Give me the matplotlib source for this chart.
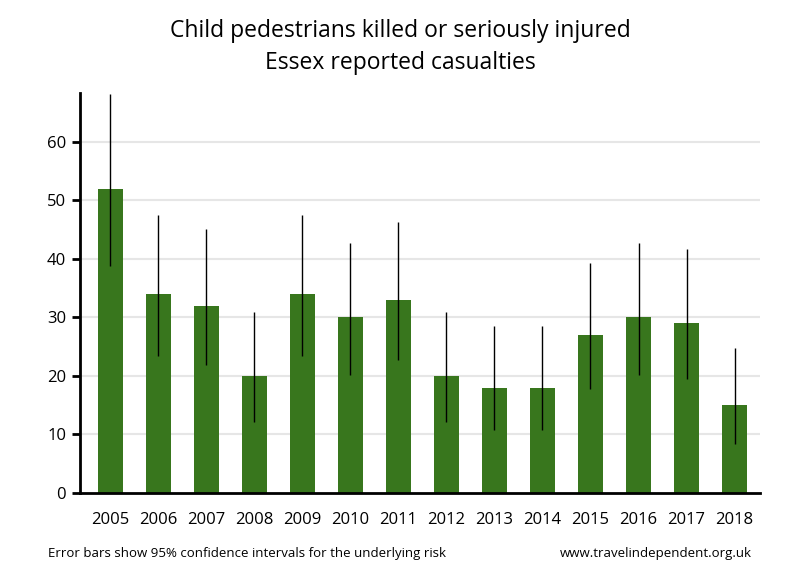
import matplotlib
matplotlib.use("Agg")
import matplotlib.pyplot as plt
import numpy as np

plt.rcParams['font.family'] = ['Open Sans', 'DejaVu Sans']

# data
years = ['2005', '2006', '2007', '2008', '2009', '2010', '2011',
         '2012', '2013', '2014', '2015', '2016', '2017', '2018']
casualties = [52, 34, 32, 20, 34, 30, 33, 20, 18, 18, 27, 30, 29, 15]
ci_low = [38.8, 23.5, 21.9, 12.2, 23.5, 20.2, 22.7, 12.2, 10.7, 10.7, 17.8, 20.2, 19.4, 8.4]
ci_high = [68.2, 47.5, 45.2, 30.9, 47.5, 42.8, 46.3, 30.9, 28.5, 28.5, 39.3, 42.8, 41.7, 24.7]

bar_color = '#38761d'

fig = plt.figure(figsize=(8, 5.8), dpi=100)
ax = fig.add_axes([0.1, 0.15, 0.85, 0.69])

x = np.arange(len(years))
ax.bar(x, casualties, width=0.52, color=bar_color, zorder=2)
ax.vlines(x, ci_low, ci_high, color='black', linewidth=1, zorder=3)

ax.set_xlim(-0.63, 13.53)
ax.set_ylim(0, 68.4)
ax.set_yticks([0, 10, 20, 30, 40, 50, 60])
ax.set_xticks(x)
ax.set_xticklabels(years)
ax.tick_params(axis='x', length=0, pad=14, labelsize=12)
ax.tick_params(axis='y', length=6, width=2, labelsize=12, pad=4)

for yv in [10, 20, 30, 40, 50, 60]:
    ax.axhline(yv, color='#e6e6e6', linewidth=1.5, zorder=1)

ax.spines['top'].set_visible(False)
ax.spines['right'].set_visible(False)
ax.spines['left'].set_linewidth(2)
ax.spines['bottom'].set_linewidth(2)

fig.text(0.5, 0.946, 'Child pedestrians killed or seriously injured',
         ha='center', va='center', fontsize=16.5)
fig.text(0.5, 0.891, 'Essex reported casualties',
         ha='center', va='center', fontsize=16.5)

fig.text(0.06, 0.046, 'Error bars show 95% confidence intervals for the underlying risk',
         ha='left', va='center', fontsize=9.5)
fig.text(0.94, 0.046, 'www.travelindependent.org.uk',
         ha='right', va='center', fontsize=9.5)

fig.savefig('out.png', dpi=100)
